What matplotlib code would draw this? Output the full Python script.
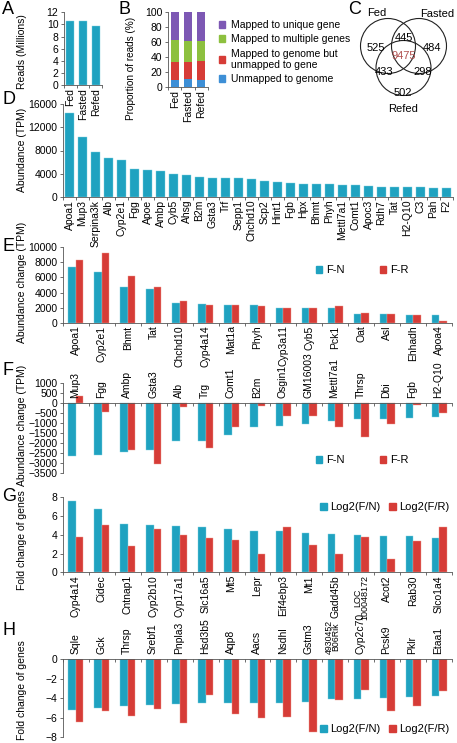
import numpy as np
import matplotlib
matplotlib.use("Agg")
import matplotlib.pyplot as plt
from matplotlib.patches import Patch, Circle

plt.rcParams['font.family'] = ['Liberation Sans', 'DejaVu Sans']
plt.rcParams['font.size'] = 7.5

# =============================================================================
#                               Data
# =============================================================================
samples = ['Fed', 'Fasted', 'Refed']
reads = [10.5, 10.5, 9.7]

map_cats = ['Unmapped to genome', 'Mapped to genome but\nunmapped to gene',
            'Mapped to multiple genes', 'Mapped to unique gene']
unmapped = [10, 11, 9]
genome_only = [24, 23, 26]
multiple = [29, 28, 26]
unique = [37, 38, 39]

venn_counts = {'Fed': 525, 'Fasted': 484, 'Refed': 502, 'Fed_Fasted': 445,
               'Fed_Refed': 433, 'Fasted_Refed': 298, 'all': 9475}

d_genes = ['Apoa1', 'Mup3', 'Serpina3k', 'Alb', 'Cyp2e1', 'Fgg', 'Apoe', 'Ambp',
           'Cyb5', 'Ahsg', 'B2m', 'Gsta3', 'Trf', 'Sepp1', 'Chchd10', 'Scp2',
           'Hint1', 'Fgb', 'Hpx', 'Bhmt', 'Phyh', 'Mettl7a1', 'Comt1', 'Apoc3',
           'Rdh7', 'Tat', 'H2-Q10', 'C3', 'Pah', 'F2']
d_tpm = [14500, 10300, 7700, 6700, 6400, 4800, 4600, 4400, 3900, 3700, 3400,
         3300, 3300, 3200, 3100, 2750, 2600, 2450, 2250, 2250, 2250, 2100, 2000,
         1900, 1800, 1800, 1700, 1650, 1600, 1550]

e_genes = ['Apoa1', 'Cyp2e1', 'Bhmt', 'Tat', 'Chchd10', 'Cyp4a14', 'Mat1a', 'Phyh',
           'Cyp3a11', 'Cyb5', 'Pck1', 'Oat', 'Asl', 'Ehhadh', 'Apoa4']
e_fn = [7400, 6700, 4800, 4500, 2550, 2450, 2400, 2350, 2000, 1900, 1900, 1150,
        1150, 1070, 1000]
e_fr = [8350, 9300, 6200, 4700, 2850, 2350, 2350, 2150, 2000, 1900, 2150, 1250,
        1150, 1070, 250]

f_genes = ['Mup3', 'Fgg', 'Ambp', 'Gsta3', 'Alb', 'Trg', 'Comt1', 'B2m', 'Osgin1',
           'GM16003', 'Mettl7a1', 'Thrsp', 'Dbi', 'Fgb', 'H2-Q10']
f_fn = [-2650, -2580, -2420, -2320, -1900, -1870, -1560, -1170, -1140, -1050,
        -890, -800, -780, -720, -700]
f_fr = [360, -420, -2310, -3020, -190, -2220, -1170, -150, -620, -650, -1170,
        -1690, -1050, -110, -470]

g_genes = ['Cyp4a14', 'Cidec', 'Cntnap1', 'Cyp2b10', 'Cyp17a1', 'Slc16a5', 'Mt5',
           'Lepr', 'Eif4ebp3', 'Mt1', 'Gadd45b', 'LOC\n100048172', 'Acot2',
           'Rab30', 'Slco1a4']
g_fn = [7.6, 6.7, 5.1, 5.0, 4.9, 4.8, 4.65, 4.45, 4.45, 4.15, 4.05, 3.95, 3.9,
        3.85, 3.65]
g_fr = [3.8, 5.0, 2.85, 4.6, 4.0, 3.7, 3.45, 1.95, 4.85, 2.9, 1.95, 3.8, 1.4,
        3.35, 4.8]

h_genes = ['Sqle', 'Gck', 'Thrsp', 'Srebf1', 'Pnpla3', 'Hsd3b5', 'Aqp8', 'Aacs',
           'Nsdhl', 'Gstm3', '4930452\nB06Rik', 'Cyp2c70', 'Pcsk9', 'Pklr', 'Etaa1']
h_fn = [-5.2, -4.95, -4.75, -4.65, -4.57, -4.5, -4.45, -4.44, -4.44, -4.35, -4.1,
        -4.05, -3.92, -3.82, -3.75]
h_fr = [-6.45, -5.35, -5.8, -5.05, -6.55, -3.65, -5.6, -6.07, -5.87, -7.45, -4.15,
        -3.15, -5.35, -4.75, -3.2]

BLUE = '#1FA2C0'
RED = '#D63C37'
STACK_COLORS = ['#3D8FD6', '#D63C37', '#8DC03F', '#7D58B4']

# =============================================================================
#                               Layout helpers
# =============================================================================
W, H = 457, 743
fig = plt.figure(figsize=(W / 100, H / 100), dpi=100)


def rect(x0, y0, x1, y1):
    return [x0 / W, 1 - y1 / H, (x1 - x0) / W, (y1 - y0) / H]


def fxy(x, y):
    return x / W, 1 - y / H


def new_axes(x0, y0, x1, y1):
    ax = fig.add_axes(rect(x0, y0, x1, y1))
    ax.patch.set_visible(False)
    for s in ['top', 'right']:
        ax.spines[s].set_visible(False)
    for s in ['left', 'bottom']:
        ax.spines[s].set_linewidth(0.6)
        ax.spines[s].set_color('#555555')
    ax.tick_params(width=0.6, length=2.5, color='#555555', labelsize=7.5, pad=1.5)
    return ax


def cat_ticks(ax, n, labels=None, rot=90):
    ax.set_xlim(-0.5, n - 0.5)
    ax.set_xticks(np.arange(n + 1) - 0.5)
    ax.set_xticklabels([])
    if labels is not None:
        ax.set_xticks(np.arange(n), labels, minor=True, rotation=rot,
                      va='top', ha='center', linespacing=0.75)
        for t, g in zip(ax.get_xticklabels(minor=True), labels):
            if '\n' in g:
                t.set_fontsize(6.5)
    ax.tick_params(axis='x', which='minor', length=0, pad=2)


def pair_bars(ax, a, b, w=0.29):
    x = np.arange(len(a))
    ax.bar(x - w / 2, a, w, color=BLUE, edgecolor='#7fd0e0', linewidth=0.3)
    ax.bar(x + w / 2, b, w, color=RED, edgecolor='#f09a90', linewidth=0.3)


def top_labels(ax, labels):
    for i, g in enumerate(labels):
        two = '\n' in g
        ax.annotate(g, (i, 0), xytext=(-2 if two else -0.5, 4),
                    textcoords='offset points', rotation=90, ha='center',
                    va='bottom', fontsize=6.3 if two else 7.5,
                    linespacing=0.75, annotation_clip=False)


def pair_legend(ax, labels, cx, cy, spacing):
    handles = [Patch(color=BLUE), Patch(color=RED)]
    ax.legend(handles, labels, ncol=2, loc='center', frameon=False,
              bbox_to_anchor=fxy(cx, cy), bbox_transform=fig.transFigure,
              handlelength=0.6, handleheight=0.6, handletextpad=0.3,
              columnspacing=spacing, fontsize=8)


def letter(s, x, y):
    fig.text(*fxy(x, y), s, fontsize=13, va='top', ha='left')


def ylab(s, x, y, size=7.5):
    fig.text(*fxy(x, y), s, rotation=90, fontsize=size, va='center', ha='center')


# =============================================================================
#                               A
# =============================================================================
axA = new_axes(64, 12.3, 102, 85)
axA.bar(np.arange(3), reads, 0.65, color=BLUE, edgecolor='#7fd0e0', linewidth=0.3)
axA.set_ylim(0, 12)
axA.set_yticks(range(0, 13, 2))
cat_ticks(axA, 3, samples)
letter('A', 2, 1)
ylab('Reads (Millions)', 22, 52)

# =============================================================================
#                               B
# =============================================================================
axB = new_axes(168, 12.3, 208, 87)
bottom = np.zeros(3)
for vals, c in zip([unmapped, genome_only, multiple, unique], STACK_COLORS):
    axB.bar(np.arange(3), vals, 0.62, bottom=bottom, color=c)
    bottom += np.array(vals)
axB.set_ylim(0, 100)
axB.set_yticks(range(0, 101, 20))
cat_ticks(axB, 3, samples)
letter('B', 118, 1)
ylab('Proportion of reads (%)', 131, 68, size=7.2)
handles = [Patch(color=c) for c in STACK_COLORS][::-1]
axB.legend(handles, map_cats[::-1], loc='upper left', frameon=False,
           bbox_to_anchor=fxy(214, 15), bbox_transform=fig.transFigure,
           handlelength=0.6, handleheight=0.6, handletextpad=0.5,
           labelspacing=0.4, fontsize=7.5, borderpad=0)

# =============================================================================
#                               C  (Venn)
# =============================================================================
axC = fig.add_axes(rect(340, 0, 457, 120))
axC.patch.set_visible(False)
axC.set_xlim(340, 457)
axC.set_ylim(120, 0)
axC.axis('off')
for cx, cy in [(388, 46), (419, 46), (403.5, 68)]:
    axC.add_patch(Circle((cx, cy), 27.5, fill=False, lw=0.8, color='#222222'))
vpos = {'Fed': (376, 48), 'Fasted': (432, 48), 'Refed': (403, 93),
        'Fed_Fasted': (403.5, 38), 'Fed_Refed': (384, 72),
        'Fasted_Refed': (423, 72), 'all': (403.5, 56)}
for k, v in venn_counts.items():
    axC.text(*vpos[k], str(v), ha='center', va='center', fontsize=8,
             color='#B0504F' if k == 'all' else 'black')
axC.text(377, 13, 'Fed', ha='center', va='center', fontsize=8)
axC.text(437, 14, 'Fasted', ha='center', va='center', fontsize=8)
axC.text(403.5, 109, 'Refed', ha='center', va='center', fontsize=8)
letter('C', 348, 1)

# =============================================================================
#                               D
# =============================================================================
axD = new_axes(63, 104, 453, 197)
axD.bar(np.arange(len(d_tpm)), d_tpm, 0.7, color=BLUE, edgecolor='#7fd0e0', linewidth=0.3)
axD.set_ylim(0, 16000)
axD.set_yticks(range(0, 16001, 4000))
cat_ticks(axD, len(d_genes), d_genes)
letter('D', 2, 91)
ylab('Abundance (TPM)', 22, 150)

# =============================================================================
#                               E
# =============================================================================
axE = new_axes(63, 247.3, 452, 322.7)
pair_bars(axE, e_fn, e_fr)
axE.set_ylim(0, 10000)
axE.set_yticks(range(0, 10001, 2000))
cat_ticks(axE, len(e_genes), e_genes)
pair_legend(axE, ['F-N', 'F-R'], 362, 270, 3.2)
letter('E', 2, 238)
ylab('Abundance change (TPM)', 22, 282)

# =============================================================================
#                               F
# =============================================================================
axF = new_axes(63, 383.3, 452, 473.3)
pair_bars(axF, f_fn, f_fr)
axF.set_ylim(-3500, 1000)
axF.set_yticks(range(-3500, 1001, 500))
axF.spines['bottom'].set_position(('data', 0))
cat_ticks(axF, len(f_genes))
top_labels(axF, f_genes)
pair_legend(axF, ['F-N', 'F-R'], 362, 460, 3.2)
letter('F', 2, 362)
ylab('Abundance change (TPM)', 22, 425)

# =============================================================================
#                               G
# =============================================================================
axG = new_axes(63, 497.3, 452, 572.3)
pair_bars(axG, g_fn, g_fr)
axG.set_ylim(0, 8)
axG.set_yticks(range(0, 9, 2))
cat_ticks(axG, len(g_genes), g_genes)
pair_legend(axG, ['Log2(F/N)', 'Log2(F/R)'], 385, 507, 0.8)
letter('G', 2, 488)
ylab('Fold change of genes', 22, 540)

# =============================================================================
#                               H
# =============================================================================
axH = new_axes(63, 659.3, 452, 737.3)
pair_bars(axH, h_fn, h_fr)
axH.set_ylim(-8, 0)
axH.set_yticks(range(-8, 1, 2))
axH.spines['bottom'].set_position(('data', 0))
cat_ticks(axH, len(h_genes))
top_labels(axH, h_genes)
pair_legend(axH, ['Log2(F/N)', 'Log2(F/R)'], 385, 729, 0.8)
letter('H', 2, 622)
ylab('Fold change of genes', 22, 690)

fig.savefig('out.png', dpi=100)
